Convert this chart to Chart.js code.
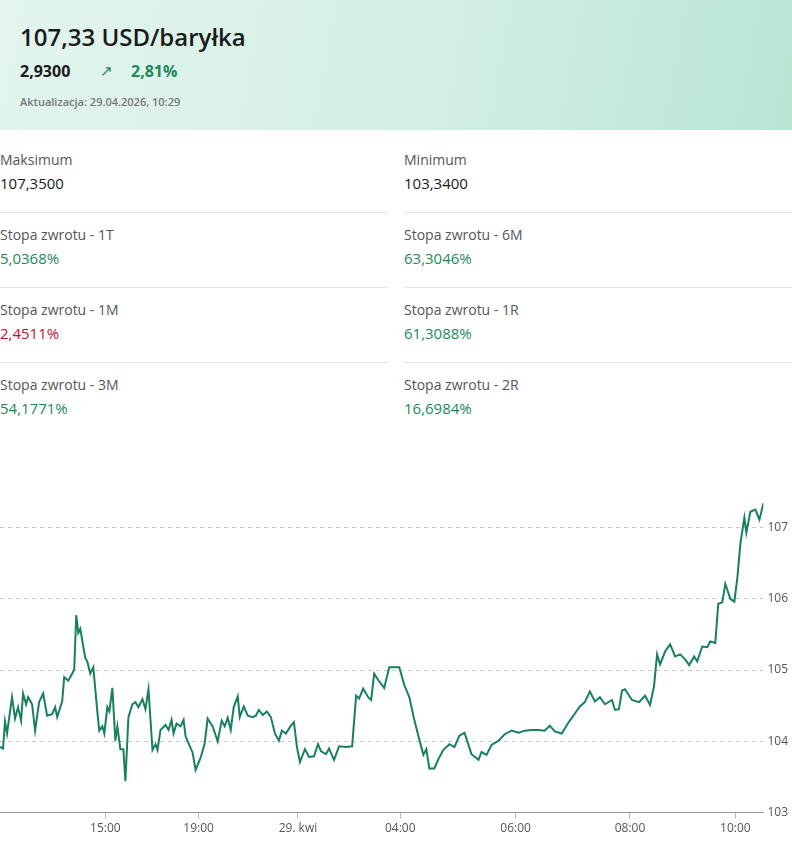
<!DOCTYPE html>
<html><head><meta charset="utf-8">
<script src="https://cdn.jsdelivr.net/npm/chart.js@4/dist/chart.umd.min.js"></script>
<style>
body{margin:0;width:792px;height:865px;font-family:"Open Sans","Noto Sans",sans-serif;background:#fff;overflow:hidden;position:relative}
.head{position:absolute;left:0;top:0;width:792px;height:130px;background:linear-gradient(100deg,#e3f5ee 0%,#d3efe4 55%,#b9e5d3 100%)}
.t1{position:absolute;left:20px;top:20px;font-size:24px;font-weight:600;color:#1a1a1a}
.t2{position:absolute;left:20px;top:60px;font-size:16px;font-weight:700;color:#1a1a1a}
.arr{position:absolute;left:100px;top:60px;font-size:15px;color:#1a8a5a}
.pct{position:absolute;left:131px;top:60px;font-size:16px;font-weight:700;color:#1a8a5a}
.upd{position:absolute;left:20px;top:94px;font-size:11px;font-weight:600;color:#777}
.cell{position:absolute;width:388px;height:75px;border-bottom:1px solid #e6e6e6}
.cell .l{position:absolute;left:0;top:13px;font-size:14px;color:#555}
.cell .v{position:absolute;left:0;top:36px;font-size:15px;font-weight:500;color:#1a1a1a}
.g{color:#1a8a5a!important}.r{color:#c8102e!important}
#wrap{position:absolute;left:0;top:455px;width:792px;height:384px}
</style></head><body>
<div class="head">
<div class="t1">107,33 USD/baryłka</div>
<div class="t2">2,9300</div><div class="arr">↗</div><div class="pct">2,81%</div>
<div class="upd">Aktualizacja: 29.04.2026, 10:29</div>
</div>
<div id="stats"></div>
<div id="wrap"><canvas id="c"></canvas></div>
<script>
const statLabels = ["Maksimum","Minimum","Stopa zwrotu - 1T","Stopa zwrotu - 6M","Stopa zwrotu - 1M","Stopa zwrotu - 1R","Stopa zwrotu - 3M","Stopa zwrotu - 2R"];
const statValues = ["107,3500","103,3400","5,0368%","63,3046%","2,4511%","61,3088%","54,1771%","16,6984%"];
const statClass = ["","","g","g","r","g","g","g"];

// time step index of each sample
const steps = [0,3,5,7,12,15,18,21,23,26,28,32,35,39,43,47,52,55,57,62,64,68,72,74,76,78,80,85,87,90,93,97,99,102,104,107,109,112,115,117,120,123,125,128,132,135,138,142,145,148,152,155,157,160,165,168,171,173,176,180,183,185,192,195,200,204,207,212,217,221,224,227,230,233,237,239,243,247,252,255,258,262,266,270,274,278,281,285,290,293,296,299,304,308,313,317,320,325,328,333,338,345,351,355,358,362,367,370,373,377,383,388,393,398,403,408,413,417,422,425,428,433,437,442,448,453,458,463,470,477,480,485,490,497,503,510,517,523,530,537,543,548,553,560,567,572,578,583,588,593,598,603,610,613,617,620,623,630,637,643,648,652,655,658,663,668,673,678,683,687,692,695,700,705,708,713,716,720,723,728,732,735,738,742,744,748,753,757,761];
const prices = [103.92,103.90,104.28,104.11,104.62,104.32,104.48,104.29,104.67,104.52,104.62,104.52,104.15,104.55,104.67,104.36,104.38,104.48,104.34,104.56,104.90,104.85,104.95,105.01,105.77,105.52,105.58,105.17,105.12,104.95,105.04,104.42,104.15,104.21,104.11,104.48,104.42,104.75,104.01,104.21,103.89,103.89,103.44,104.34,104.52,104.55,104.48,104.59,104.45,104.73,103.88,103.96,103.88,104.16,104.23,104.16,104.30,104.11,104.25,104.21,104.30,104.07,103.84,103.60,103.77,103.97,104.32,104.21,104.00,104.29,104.21,104.33,104.16,104.48,104.63,104.34,104.49,104.36,104.34,104.36,104.44,104.37,104.42,104.34,104.11,104.01,104.15,104.11,104.22,104.27,103.92,103.71,103.89,103.78,103.79,103.96,103.86,103.82,103.90,103.74,103.93,103.92,103.93,104.64,104.60,104.74,104.62,104.58,104.95,104.86,104.75,105.04,105.04,105.04,104.79,104.62,104.30,104.08,103.81,103.89,103.62,103.62,103.75,103.88,103.96,103.92,104.08,104.12,103.82,103.74,103.85,103.81,103.95,104.01,104.10,104.15,104.12,104.15,104.16,104.16,104.15,104.22,104.14,104.11,104.27,104.37,104.49,104.55,104.70,104.56,104.62,104.52,104.58,104.44,104.45,104.71,104.73,104.58,104.55,104.64,104.51,104.78,105.22,105.08,105.26,105.36,105.19,105.22,105.15,105.07,105.19,105.12,105.33,105.32,105.40,105.38,105.93,105.95,106.21,106.00,105.96,106.29,106.77,107.14,106.93,107.22,107.25,107.11,107.34];
const tickPos = [105,198,297,399,514,628,733];
const tickText = ["15:00","19:00","29. kwi","04:00","06:00","08:00","10:00"];
const yTicks = [103,104,105,106,107];

const st = document.getElementById('stats');
statLabels.forEach((s,i)=>{
  const d = document.createElement('div');
  d.className='cell';
  d.style.left = (i%2 ? 404 : 0)+'px';
  d.style.top = (137 + Math.floor(i/2)*75)+'px';
  if (i>=6) d.style.borderBottom='none';
  d.innerHTML = '<div class="l">'+s+'</div><div class="v '+statClass[i]+'">'+statValues[i]+'</div>';
  st.appendChild(d);
});

const pts = steps.map((x,i)=>({x:x,y:prices[i]}));
new Chart(document.getElementById('c'),{
  type:'line',
  data:{datasets:[{data:pts,borderColor:'#18805a',borderWidth:2,pointRadius:0,tension:0,fill:false}]},
  options:{
    responsive:true,maintainAspectRatio:false,animation:false,
    layout:{padding:{left:0,right:0,top:0,bottom:0}},
    plugins:{legend:{display:false},tooltip:{enabled:false}},
    scales:{
      x:{type:'linear',min:0,max:761,
        afterBuildTicks:(ax)=>{ax.ticks=tickPos.map(v=>({value:v}));},
        ticks:{autoSkip:false,maxRotation:0,color:'#555',font:{size:12,family:'Open Sans'},
          callback:(v)=>tickText[tickPos.indexOf(v)]},
        grid:{display:true,drawOnChartArea:false,tickLength:6,color:'#bbb'},
        border:{display:true,color:'#999'}},
      y:{position:'right',min:103,max:107.86,
        afterBuildTicks:(ax)=>{ax.ticks=yTicks.map(v=>({value:v}));},
        ticks:{color:'#555',font:{size:12,family:'Open Sans'},padding:4},
        grid:{color:'#c8c8c8',drawTicks:false},
        border:{display:false,dash:[4,4]}}
    }
  }
});
</script>
</body></html>
